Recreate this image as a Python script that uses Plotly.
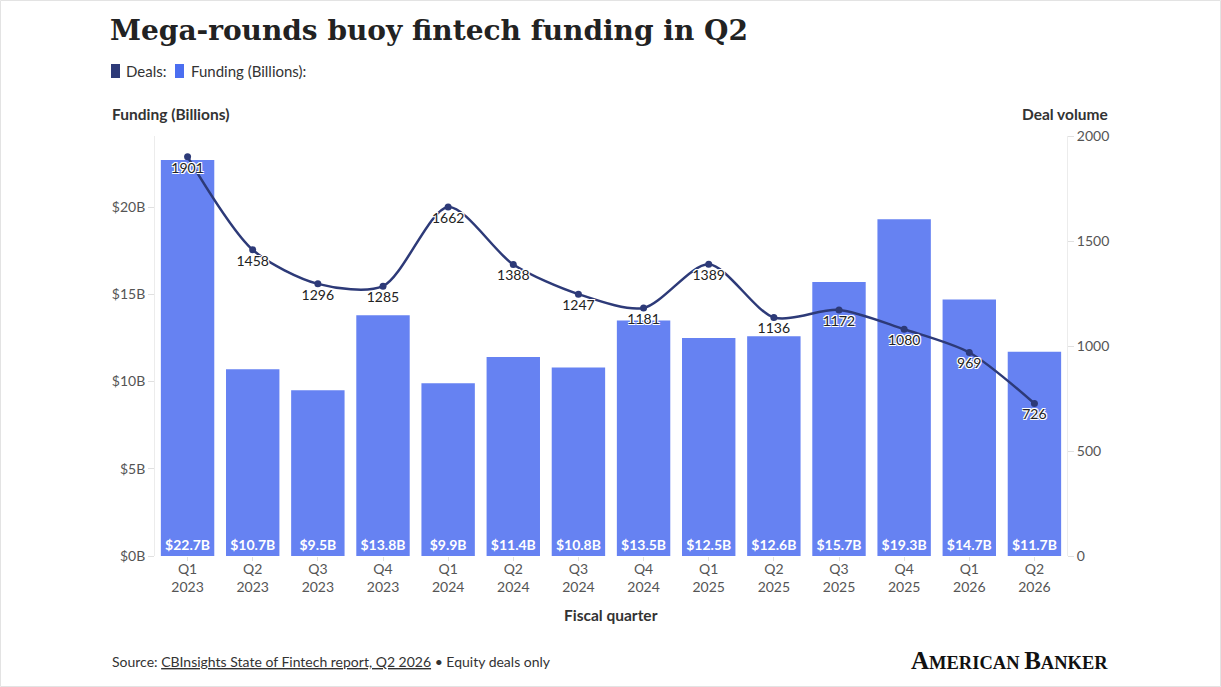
import plotly.graph_objects as go

# chart data
quarters = ["Q1<br>2023", "Q2<br>2023", "Q3<br>2023", "Q4<br>2023",
            "Q1<br>2024", "Q2<br>2024", "Q3<br>2024", "Q4<br>2024",
            "Q1<br>2025", "Q2<br>2025", "Q3<br>2025", "Q4<br>2025",
            "Q1<br>2026", "Q2<br>2026"]
funding = [22.7, 10.7, 9.5, 13.8, 9.9, 11.4, 10.8, 13.5, 12.5, 12.6, 15.7, 19.3, 14.7, 11.7]
deals = [1901, 1458, 1296, 1285, 1662, 1388, 1247, 1181, 1389, 1136, 1172, 1080, 969, 726]
funding_ticks = [0, 5, 10, 15, 20]
deal_ticks = [0, 500, 1000, 1500, 2000]

W, H = 1221, 687
L, R, T, B = 155, 154, 136, 131
pw, ph = W - L - R, H - T - B

def px(x):
    return (x - L) / pw

def py(y):
    return (H - B - y) / ph

BAR = "#6682f2"
NAVY = "#2d3a78"
GREY = "#555555"
FONT = "Lato"

fig = go.Figure()
fig.add_trace(go.Bar(
    x=quarters, y=funding, marker_color=BAR, marker_line_width=0,
    text=["$%sB" % v for v in funding], textposition="inside",
    insidetextanchor="start", textangle=0,
    textfont=dict(family=FONT, size=14, color="white", weight="bold"),
    yaxis="y", showlegend=False))

halo = "1px 1px 0 #fff, -1px -1px 0 #fff, 1px -1px 0 #fff, -1px 1px 0 #fff, 0 1px 0 #fff, 0 -1px 0 #fff"
fig.add_trace(go.Scatter(
    x=quarters, y=deals, yaxis="y2", mode="lines+markers+text",
    line=dict(color=NAVY, width=2.5, shape="spline", smoothing=0.8),
    marker=dict(color=NAVY, size=7),
    text=[str(d) for d in deals], textposition="bottom center",
    textfont=dict(family=FONT, size=14, color="#222222", shadow=halo),
    cliponaxis=False, showlegend=False))

fig.update_layout(
    width=W, height=H, margin=dict(l=L, r=R, t=T, b=B),
    paper_bgcolor="white", plot_bgcolor="white",
    font=dict(family=FONT, size=14, color=GREY),
    bargap=0.18,
    title=dict(text="Mega-rounds buoy fintech funding in Q2",
               font=dict(family="DejaVu Serif", size=28, color="#222222", weight="bold"),
               xref="container", yref="container", x=110 / W, xanchor="left",
               y=1 - 30 / H, yanchor="middle"),
    xaxis=dict(range=[-0.5, len(quarters) - 0.5], showline=False,
               ticks="outside", ticklen=4, tickcolor="#e0e0e0",
               ticklabelstandoff=-4,
               tickfont=dict(size=14, color=GREY), showgrid=False),
    yaxis=dict(range=[0, 24.07], tickvals=funding_ticks,
               ticktext=["$%dB" % v for v in funding_ticks],
               showgrid=False, zeroline=False, showline=True, linecolor="#ececec",
               ticks="outside", ticklen=6, tickcolor="#e0e0e0",
               tickfont=dict(size=14, color=GREY)),
    yaxis2=dict(range=[0, 2000], tickvals=deal_ticks, overlaying="y", side="right",
                showgrid=False, zeroline=False, showline=True, linecolor="#ececec",
                ticks="outside", ticklen=6, tickcolor="#e0e0e0",
                tickfont=dict(size=14, color=GREY)),
)

ann = [
    dict(x=px(110), y=py(114), text="<b>Funding (Billions)</b>", xanchor="left",
         font=dict(size=15.5, color="#333333")),
    dict(x=px(1110), y=py(114), text="<b>Deal volume</b>", xanchor="right",
         font=dict(size=15.5, color="#333333")),
    dict(x=0.5, y=py(615), text="<b>Fiscal quarter</b>", xanchor="center",
         font=dict(size=15.5, color="#333333")),
    dict(x=px(124), y=py(71), text="Deals:", xanchor="left",
         font=dict(size=15, color="#333333")),
    dict(x=px(189), y=py(71), text="Funding (Billions):", xanchor="left",
         font=dict(size=15, color="#333333")),
    dict(x=px(110), y=py(661),
         text="Source: <span style='text-decoration:underline'>CBInsights State of Fintech report, Q2 2026</span> \u2022 Equity deals only",
         xanchor="left", font=dict(size=14, color="#333333")),
    dict(x=px(1110), y=py(660),
         text="<span style='font-size:25px'>A</span>MERICAN <span style='font-size:25px'>B</span>ANKER",
         xanchor="right",
         font=dict(family="Liberation Serif", size=18.5,
                   color="#111111", weight="bold")),
]
for a in ann:
    a.update(xref="paper", yref="paper", yanchor="middle", showarrow=False)
fig.update_layout(annotations=ann)

shapes = [
    dict(type="rect", x0=px(111), x1=px(120), y0=py(64), y1=py(78),
         fillcolor=NAVY, line_width=0),
    dict(type="rect", x0=px(175), x1=px(184), y0=py(64), y1=py(78),
         fillcolor="#4b6ef0", line_width=0),
    dict(type="rect", x0=px(0.5), x1=px(W - 0.5), y0=py(0.5), y1=py(H - 0.5),
         line=dict(color="#e3e3e3", width=1), fillcolor="rgba(0,0,0,0)"),
]
for s in shapes:
    s.update(xref="paper", yref="paper", layer="above")
fig.update_layout(shapes=shapes)

fig.write_html("out.html", config={"displayModeBar": False},
               post_script="document.body.style.margin='0';")
